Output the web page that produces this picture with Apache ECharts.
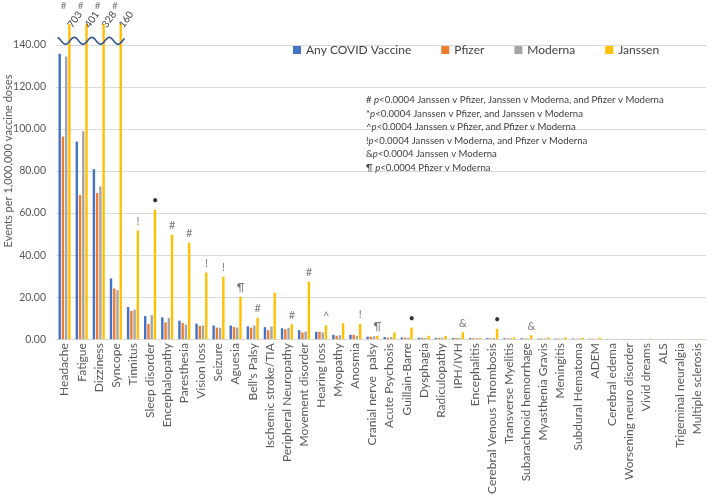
<!DOCTYPE html>
<html><head><meta charset="utf-8">
<script src="https://cdn.jsdelivr.net/npm/echarts@6/dist/echarts.min.js"></script>
<style>html,body{margin:0;padding:0;background:#fff}#c{width:709px;height:497px}</style>
</head><body><div id="c"></div>
<script>
const categories = ['Headache','Fatigue','Dizziness','Syncope','Tinnitus','Sleep disorder','Encephalopathy','Paresthesia','Vision loss','Seizure','Aguesia',"Bell's Palsy",'Ischemic stroke/TIA','Peripheral Neuropathy','Movement disorder','Hearing loss','Myopathy','Anosmia','Cranial nerve  palsy','Acute Psychosis','Guillain-Barre','Dysphagia','Radiculopathy','IPH/IVH','Encephalitis','Cerebral Venous Thrombosis','Transverse Myelitis','Subarachnoid hemorrhage','Myasthenia Gravis','Meningitis','Subdural Hematoma','ADEM','Cerebral edema','Worsening neuro disorder','Vivid dreams','ALS','Trigeminal neuralgia','Multiple sclerosis'];
const anyCovid = [135.8,94.0,80.9,28.9,15.3,11.0,10.4,8.8,7.4,6.5,6.5,6.1,5.7,5.2,4.3,3.5,2.1,2.1,1.2,1.0,0.8,0.7,0.6,0.6,0.5,0.5,0.4,0.4,0.3,0.3,0.3,0.2,0.1,0.1,0.1,0.05,0.05,0.05];
const pfizer = [96.4,68.6,69.5,24.1,13.4,7.3,8.0,7.7,6.3,5.5,5.8,5.5,4.3,4.7,3.2,3.5,1.6,2.1,1.2,0.7,0.7,0.6,0.6,0.5,0.5,0.4,0.4,0.3,0.3,0.3,0.2,0.2,0.1,0.1,0.1,0.05,0.05,0.05];
const moderna = [134.5,98.9,72.7,23.3,14.0,11.4,10.1,6.9,6.5,5.4,5.5,6.5,6.0,5.4,3.6,3.2,1.9,1.6,1.4,1.0,0.7,0.6,0.6,0.6,0.5,0.5,0.4,0.4,0.3,0.3,0.3,0.2,0.1,0.1,0.1,0.05,0.05,0.05];
const janssen = [703,401,328,160,51.7,61.6,49.8,45.9,31.7,29.7,20.2,10.2,22.1,7.1,27.4,6.6,7.6,7.3,1.6,3.2,5.5,1.6,1.5,3.3,0.6,4.9,0.9,1.9,0.8,0.8,0.7,0.7,0.2,0.2,0.2,0.1,0.1,0.1];
const sigMarks = ['#','#','#','#','!','•','#','#','!','!','¶','#','','#','#','^','','!','¶','','•','','','&','','•','','&','','','','','','','','','',''];
const seriesNames = ['Any COVID Vaccine','Pfizer','Moderna','Janssen'];
const yTicks = [0,20,40,60,80,100,120,140];
const yTitle = 'Events per 1,000,000 vaccine doses';
const notes = [
  ['# ','<0.0004 Janssen v Pfizer, Janssen v Moderna, and Pfizer v Moderna'],
  ['*','<0.0004 Janssen v Pfizer, and Janssen v Moderna'],
  ['^','<0.0004 Janssen v Pfizer, and Pfizer v Moderna'],
  ['!','<0.0004 Janssen v Moderna, and Pfizer v Moderna'],
  ['&','<0.0004 Janssen v Moderna'],
  ['¶ ','<0.0004 Pfizer v Moderna']
];

const FONT = 'Lato';
const CAP = 150; // axis-break display height
const colors = ['#4472C4','#ED7D31','#A5A5A5','#FFC000'];
const chart = echarts.init(document.getElementById('c'), null, {renderer:'canvas'});

const janssenData = janssen.map(v => v > CAP ? {
  value: CAP,
  label: {show:true, formatter: String(v), position:'top', rotate:55, align:'left', verticalAlign:'middle', distance:0, offset:[-2,2], fontFamily:FONT, fontSize:10, color:'#404040'}
} : v);

const markData = [];
sigMarks.forEach((m,i) => {
  if (!m) return;
  const capped = janssen[i] > CAP;
  markData.push({value:[i, Math.min(janssen[i], CAP)], mark:m,
    label:{offset: capped ? [-1,-10] : [5,0], color: m === '•' ? '#000' : '#595959', fontSize: capped ? 10 : 11}});
});

const barCommon = {type:'bar', barWidth:2.4, barGap:'35%', clip:false, z:2};
const series = [
  Object.assign({name:seriesNames[0], data:anyCovid, itemStyle:{color:colors[0]}}, barCommon),
  Object.assign({name:seriesNames[1], data:pfizer, itemStyle:{color:colors[1]}}, barCommon),
  Object.assign({name:seriesNames[2], data:moderna, itemStyle:{color:colors[2]}}, barCommon),
  Object.assign({name:seriesNames[3], data:janssenData, itemStyle:{color:colors[3]}}, barCommon),
  {
    type:'scatter', name:'marks', data:markData, symbolSize:1, itemStyle:{color:'rgba(0,0,0,0)'}, silent:true, z:5, clip:false,
    label:{show:true, position:'top', distance:3, fontFamily:FONT, fontSize:11, color:'#595959',
      formatter: p => p.data.mark}
  }
];

const noteText = notes.map(n => '{t|' + n[0] + '}{i|p}{t|' + n[1] + '}').join('\n');

chart.setOption({
  animation:false,
  textStyle:{fontFamily:FONT},
  color:colors,
  grid:{left:56, right:3, top:45, bottom:156},
  legend:{data:seriesNames, left:288, top:39, itemWidth:8, itemHeight:8, itemGap:30, icon:'rect',
    textStyle:{fontFamily:FONT, fontSize:12, color:'#404040'}},
  xAxis:{type:'category', data:categories,
    axisLine:{lineStyle:{color:'#D9D9D9'}}, axisTick:{show:false},
    axisLabel:{interval:0, rotate:90, margin:4, fontFamily:FONT, fontSize:12, color:'#595959'}},
  yAxis:{type:'value', min:yTicks[0], max:yTicks[yTicks.length-1], interval:yTicks[1]-yTicks[0],
    axisLine:{show:false}, axisTick:{show:false},
    splitLine:{lineStyle:{color:'#D9D9D9'}},
    axisLabel:{margin:10, fontFamily:FONT, fontSize:10.5, color:'#595959', formatter: v => v.toFixed(2)}},
  series:series,
  graphic:[
    {type:'text', left:366, top:95, z:10, style:{text:noteText, rich:{
      t:{fontFamily:FONT, fontSize:9.6, fill:'#404040', lineHeight:13.5},
      i:{fontFamily:FONT, fontSize:9.6, fontStyle:'italic', fill:'#404040', lineHeight:13.5}}}},
    {type:'text', x:3, y:161, rotation:Math.PI/2, z:10, style:{text:yTitle, fontFamily:FONT, fontSize:11, fill:'#595959', align:'center', verticalAlign:'top'}}
  ]
});

// wavy break line across the capped bars
const capIdx = janssen.map((v,i)=> v > CAP ? i : -1).filter(i => i >= 0);
const xa = chart.convertToPixel({xAxisIndex:0}, capIdx[0]);
const xb = chart.convertToPixel({xAxisIndex:0}, capIdx[capIdx.length-1]);
const yc = chart.convertToPixel({yAxisIndex:0}, 142);
const x0 = xa - 7, x1 = xb + 9;
const pts = [];
for (let x = x0; x <= x1; x += 1) pts.push([x, yc + 3.5*Math.cos(2*Math.PI*(x - x0 - 8)/17.5)]);
chart.setOption({graphic:[{}, {}, {type:'polyline', z:20, shape:{points:pts, smooth:0}, style:{stroke:'#2F5597', lineWidth:1.6, fill:null}}]});
</script>
</body></html>
